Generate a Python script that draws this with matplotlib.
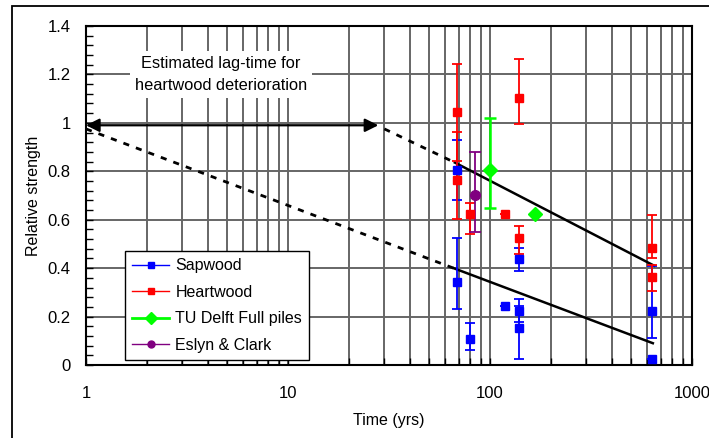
import numpy as np
import matplotlib
matplotlib.use("Agg")
import matplotlib.pyplot as plt
from matplotlib.ticker import FixedLocator, LogLocator, MultipleLocator, NullFormatter
from matplotlib.patches import Rectangle
from matplotlib.lines import Line2D

plt.rcParams['font.family'] = ['Liberation Sans', 'DejaVu Sans']

# Sapwood strength (value, lower error, upper error)
sap_t = [69, 69, 80, 118, 139, 139, 139, 631, 631]
sap_v = [0.806, 0.342, 0.109, 0.244, 0.438, 0.224, 0.151, 0.224, 0.023]
sap_lo = [0.124, 0.109, 0.047, 0.0, 0.048, 0.047, 0.128, 0.111, 0.0]
sap_hi = [0.124, 0.184, 0.066, 0.0, 0.044, 0.047, 0.093, 0.186, 0.0]

# Heartwood strength
heart_t = [69, 69, 80, 118, 139, 139, 631, 631]
heart_v = [1.043, 0.762, 0.623, 0.623, 1.102, 0.526, 0.482, 0.362]
heart_lo = [0.200, 0.160, 0.083, 0.0, 0.108, 0.067, 0.041, 0.055]
heart_hi = [0.200, 0.200, 0.048, 0.0, 0.162, 0.046, 0.138, 0.050]

# TU Delft full piles
delft_t = [100, 167]
delft_v = [0.806, 0.623]
delft_lo = [0.156, 0.0]
delft_hi = [0.216, 0.0]

# Eslyn & Clark
eslyn_t = [84]
eslyn_v = [0.702]
eslyn_lo = [0.151]
eslyn_hi = [0.178]

# Trend lines: sapwood (starts at t=1) and heartwood (after the lag time)
sap_trend_t = [1, 66, 640]
sap_trend_v = [0.975, 0.400, 0.090]
heart_trend_t = [30, 67, 650]
heart_trend_v = [0.975, 0.836, 0.410]

lag_start, lag_end, lag_level = 1, 28, 0.99

x_ticks = [1, 10, 100, 1000]
x_tick_labels = ["1", "10", "100", "1000"]
y_ticks = [0, 0.2, 0.4, 0.6, 0.8, 1.0, 1.2, 1.4]
y_tick_labels = ["0", "0.2", "0.4", "0.6", "0.8", "1", "1.2", "1.4"]

W, H = 709, 438
fig = plt.figure(figsize=(W / 100, H / 100), dpi=100)
ax = fig.add_axes([86 / W, 1 - 365 / H, (692 - 86) / W, (365 - 26) / H])

# Outer frame around the figure
fig.patches.append(Rectangle((12 / W, -0.05), 1.1, 1 - 6 / H + 0.05,
                             transform=fig.transFigure, fill=False,
                             edgecolor='black', lw=1.3, zorder=0))

ax.set_xscale('log')
ax.set_xlim(1, 1000)
ax.set_ylim(0, 1.4)

grid_kw = dict(color='#666666', lw=1.4, zorder=0)
ax.xaxis.set_major_locator(FixedLocator(x_ticks))
ax.xaxis.set_minor_locator(LogLocator(base=10, subs=np.arange(2, 10)))
ax.xaxis.set_minor_formatter(NullFormatter())
ax.set_xticklabels(x_tick_labels)
ax.yaxis.set_major_locator(FixedLocator(y_ticks))
ax.set_yticklabels(y_tick_labels)
ax.yaxis.set_minor_locator(MultipleLocator(0.04))
ax.grid(True, which='major', axis='both', **grid_kw)
ax.grid(True, which='minor', axis='x', **grid_kw)
ax.set_axisbelow(True)

ax.tick_params(axis='x', which='both', direction='in', length=5, width=1,
               pad=15, labelsize=12, top=False)
ax.tick_params(axis='y', which='both', direction='in', length=5, width=1,
               pad=11, labelsize=12, right=False)
for s in ax.spines.values():
    s.set_linewidth(1.5)
    s.set_color('black')

ax.set_xlabel("Time (yrs)", fontsize=11.5, labelpad=9)
ax.set_ylabel("Relative strength", fontsize=11.5, labelpad=5)

# Trend lines
ax.plot(sap_trend_t[:2], sap_trend_v[:2], color='black', lw=2,
        linestyle=(0, (2.2, 2.6)), zorder=3)
ax.plot(sap_trend_t[1:], sap_trend_v[1:], color='black', lw=1.8, zorder=3)
ax.plot(heart_trend_t[:2], heart_trend_v[:2], color='black', lw=2,
        linestyle=(0, (2.2, 2.6)), zorder=3)
ax.plot(heart_trend_t[1:], heart_trend_v[1:], color='black', lw=1.8, zorder=3)

# Lag-time arrow and label
ax.annotate("", xy=(lag_start, lag_level), xytext=(lag_end, lag_level),
            arrowprops=dict(arrowstyle='<|-|>', color='black', lw=1.6,
                            mutation_scale=20, shrinkA=0, shrinkB=0),
            zorder=4)
ax.text(4.66, 1.2, "Estimated lag-time for\nheartwood deterioration",
        ha='center', va='center', fontsize=11.8, linespacing=1.55,
        bbox=dict(boxstyle='square,pad=0.3', facecolor='white', edgecolor='none'),
        zorder=2)

eb_kw = dict(linestyle='none', elinewidth=1.3, capthick=1.3, zorder=5)
ax.errorbar(sap_t, sap_v, yerr=[sap_lo, sap_hi], color='#0000ff', marker='s',
            markersize=6, capsize=3.5, label='Sapwood', **eb_kw)
ax.errorbar(heart_t, heart_v, yerr=[heart_lo, heart_hi], color='#ff0000', marker='s',
            markersize=6, capsize=3.5, label='Heartwood', **eb_kw)
ax.errorbar(delft_t, delft_v, yerr=[delft_lo, delft_hi], color='#00ff00', marker='D',
            markersize=7, capsize=4.5, label='TU Delft Full piles',
            **{**eb_kw, 'elinewidth': 1.8, 'capthick': 1.8})
ax.errorbar(eslyn_t, eslyn_v, yerr=[eslyn_lo, eslyn_hi], color='#800080', marker='o',
            markersize=7, capsize=4, label='Eslyn & Clark', **eb_kw)

# Legend with line+marker handles
handles = [
    Line2D([], [], color='#0000ff', marker='s', markersize=5, lw=1),
    Line2D([], [], color='#ff0000', marker='s', markersize=5, lw=1),
    Line2D([], [], color='#00ff00', marker='D', markersize=6, lw=2),
    Line2D([], [], color='#800080', marker='o', markersize=5, lw=1),
]
labels = ['Sapwood', 'Heartwood', 'TU Delft Full piles', 'Eslyn & Clark']
leg = ax.legend(handles, labels, loc='upper left',
                bbox_to_anchor=(125 / W, 1 - 251 / H), bbox_transform=fig.transFigure,
                fontsize=11.5, frameon=True, fancybox=False, framealpha=1,
                edgecolor='black', handlelength=2.3, handletextpad=0.4,
                labelspacing=0.72, borderpad=0.45, borderaxespad=0)
leg.get_frame().set_linewidth(1.0)
leg.set_zorder(6)

fig.savefig("out.png", dpi=100)
